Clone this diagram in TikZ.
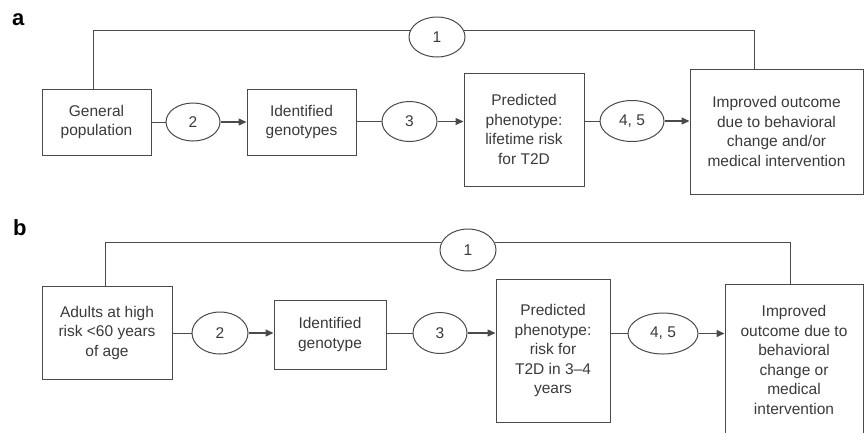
\documentclass[tikz,border=0pt]{standalone}
\usepackage{fontspec}
\setmainfont{Liberation Sans}
\usepackage{xcolor}
\usetikzlibrary{shapes.geometric,arrows.meta}
\definecolor{inkgray}{HTML}{3A3A3A}
\definecolor{linegray}{HTML}{4A4A4A}

\begin{document}
\begin{tikzpicture}[x=1pt,y=-1pt]
\tikzstyle{stagebox} = [rectangle, draw=linegray, line width=1pt, inner sep=0pt, align=center, text=inkgray, font=\fontsize{15.5}{19.5}\selectfont]
\tikzstyle{stepoval} = [ellipse, draw=linegray, line width=1pt, inner sep=0pt, text=inkgray, font=\fontsize{15.5}{19.5}\selectfont]
\tikzstyle{link} = [draw=linegray, line width=1pt]
\tikzstyle{flow} = [link, line width=1.3pt, -{Triangle[length=8pt,width=7pt]}]
\tikzstyle{panel} = [anchor=base west, inner sep=0pt, text=black, font=\fontsize{22}{22}\selectfont\bfseries]

\useasboundingbox (0,0) rectangle (864,432);

% panel a
\node(labelA) [panel] at (12,25.5) {a};
\node(genPop) [stagebox, minimum width=109pt, minimum height=66pt] at (96.5,122) {General\\population};
\node(idGenoA) [stagebox, minimum width=109pt, minimum height=66pt] at (301.5,122) {Identified\\genotypes};
\node(predA) [stagebox, minimum width=120pt, minimum height=113pt] at (524,129.5) {Predicted\\phenotype:\\lifetime risk\\for T2D};
\node(outA) [stagebox, minimum width=173pt, minimum height=125pt] at (776.5,131.5) {Improved outcome\\due to behavioral\\change and/or\\medical intervention};
\node(ovalA1) [stepoval, minimum width=56pt, minimum height=40pt] at (437,37) {1};
\node(ovalA2) [stepoval, minimum width=54pt, minimum height=38pt] at (193,122) {2};
\node(ovalA3) [stepoval, minimum width=55pt, minimum height=40pt] at (409.5,121.5) {3};
\node(ovalA45) [stepoval, minimum width=64pt, minimum height=41pt] at (632,121) {4, 5};

\draw[link] (genPop) -- (ovalA2);
\draw[flow] (ovalA2) -- (idGenoA);
\draw[link] (idGenoA.east |- ovalA3.west) -- (ovalA3.west);
\draw[flow] (ovalA3.east) -- (ovalA3.east -| predA.west);
\draw[link] (predA.east |- ovalA45.west) -- (ovalA45.west);
\draw[flow] (ovalA45.east) -- (ovalA45.east -| outA.west);
\draw[link] ([xshift=-3.5pt]genPop.north) |- (ovalA1.167);
\draw[link] (ovalA1.13) -| ([xshift=-22.5pt]outA.north);

% panel b
\node(labelB) [panel] at (13,235) {b};
\node(adults) [stagebox, minimum width=130pt, minimum height=93pt] at (107,332.5) {Adults at high\\risk <60 years\\of age};
\node(idGenoB) [stagebox, minimum width=112pt, minimum height=69pt] at (330,334.5) {Identified\\genotype};
\node(predB) [stagebox, minimum width=114pt, minimum height=143pt] at (553,350.5) {Predicted\\phenotype:\\risk for\\T2D in 3--4\\years};
\node(outB) [stagebox, minimum width=138pt, minimum height=152pt] at (794,360) {Improved\\outcome due to\\behavioral\\change or\\medical\\intervention};
\node(ovalB1) [stepoval, minimum width=56pt, minimum height=42pt] at (468,250) {1};
\node(ovalB2) [stepoval, minimum width=56pt, minimum height=42pt] at (220,333) {2};
\node(ovalB3) [stepoval, minimum width=54pt, minimum height=41pt] at (440,333) {3};
\node(ovalB45) [stepoval, minimum width=70pt, minimum height=41pt] at (663,333.5) {4, 5};

\draw[link] (adults.east |- ovalB2.west) -- (ovalB2.west);
\draw[flow] (ovalB2.east) -- (ovalB2.east -| idGenoB.west);
\draw[link] (idGenoB.east |- ovalB3.west) -- (ovalB3.west);
\draw[flow] (ovalB3.east) -- (ovalB3.east -| predB.west);
\draw[link] (predB.east |- ovalB45.west) -- (ovalB45.west);
\draw[flow] (ovalB45.east) -- (ovalB45.east -| outB.west);
\draw[link] ([xshift=-2pt]adults.north) |- (ovalB1.165);
\draw[link] (ovalB1.15) -| ([xshift=-4pt]outB.north);
\end{tikzpicture}
\end{document}
